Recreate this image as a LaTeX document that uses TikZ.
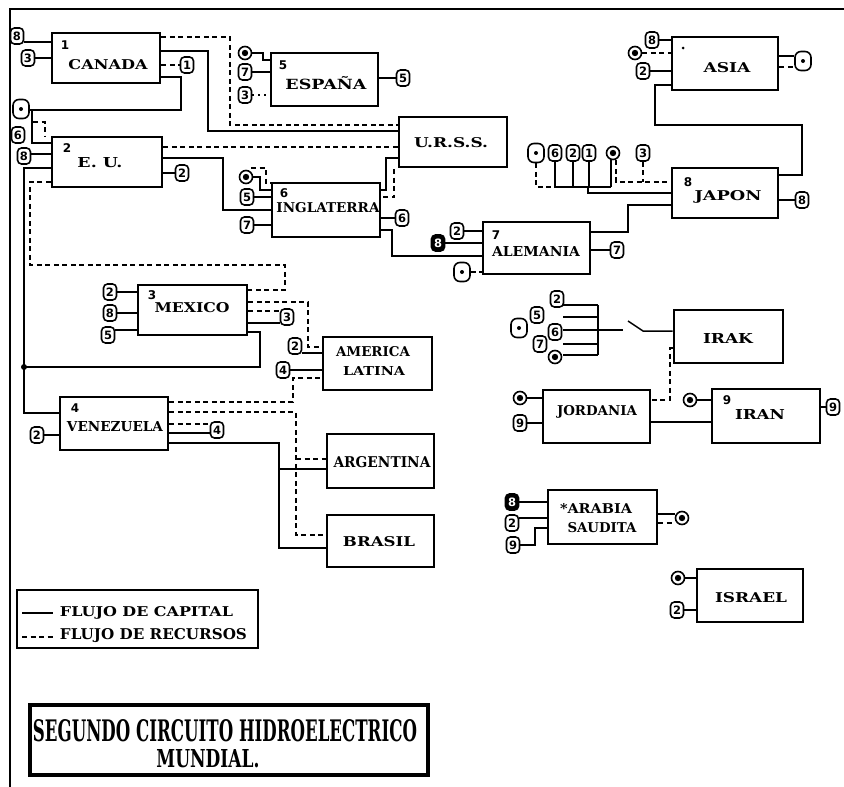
\documentclass[tikz,border=0pt]{standalone}
\usepackage{fontspec}
\setmainfont{DejaVu Serif}
\setsansfont{DejaVu Sans}
\usepackage{graphicx}
\newcommand\fitlab[3]{\resizebox{#1pt}{#2pt}{\bfseries #3}}
\begin{document}
\begin{tikzpicture}[x=1pt,y=-1pt,
 box/.style={draw, line width=2.6pt, inner sep=0pt},
 lbl/.style={inner sep=0pt, outer sep=0pt},
 num/.style={inner sep=0pt, font=\sffamily\bfseries\fontsize{12}{12}\selectfont},
 bdg/.style={draw, rounded corners=4pt, line width=1.6pt, minimum width=13pt, minimum height=16pt, inner sep=0pt, font=\sffamily\bfseries\fontsize{11.5}{11.5}\selectfont},
 bdgd/.style={bdg, fill=black, text=white},
 odot/.style={draw, rounded corners=6pt, line width=1.6pt, minimum width=16pt, minimum height=19pt, inner sep=0pt, path picture={\fill (path picture bounding box.center) circle (2pt);}},
 sdot/.style={draw, circle, line width=1.6pt, minimum size=13pt, inner sep=0pt, path picture={\fill (path picture bounding box.center) circle (3.2pt);}},
 cl/.style={line width=1.5pt},
 rl/.style={line width=1.5pt, dash pattern=on 5pt off 3.5pt},
 jdot/.style={circle, fill, inner sep=0pt, minimum size=6pt}]
\useasboundingbox (0,0) rectangle (844,787);
\fill[white] (0,0) rectangle (844,787);
% frame
\draw[line width=2.8pt] (844,9) -- (10,9) -- (10,787);

% ---------- boxes ----------
\node[box, minimum width=108pt, minimum height=50pt] (can) at (106,58) {};
\node[box, minimum width=110pt, minimum height=50pt] (eu) at (107,162) {};
\node[box, minimum width=107pt, minimum height=53pt] (esp) at (324.5,79.5) {};
\node[box, minimum width=108pt, minimum height=50pt] (urss) at (453,142) {};
\node[box, minimum width=106pt, minimum height=53pt] (asia) at (725,63.5) {};
\node[box, minimum width=106pt, minimum height=50pt] (jap) at (725,193) {};
\node[box, minimum width=108pt, minimum height=54pt] (ing) at (326,210) {};
\node[box, minimum width=107pt, minimum height=52pt] (ale) at (536.5,248) {};
\node[box, minimum width=109pt, minimum height=50pt] (mex) at (192.5,310) {};
\node[box, minimum width=109pt, minimum height=53pt] (aml) at (377.5,363.5) {};
\node[box, minimum width=109pt, minimum height=53pt] (irak) at (728.5,336.5) {};
\node[box, minimum width=107pt, minimum height=53pt] (jor) at (596.5,416.5) {};
\node[box, minimum width=108pt, minimum height=54pt] (iran) at (766,416) {};
\node[box, minimum width=109pt, minimum height=54pt] (ara) at (602.5,517) {};
\node[box, minimum width=106pt, minimum height=53pt] (isr) at (750,595.5) {};
\node[box, minimum width=108pt, minimum height=53pt] (ven) at (114,423.5) {};
\node[box, minimum width=107pt, minimum height=54pt] (arg) at (380.5,461) {};
\node[box, minimum width=107pt, minimum height=52pt] (bra) at (380.5,541) {};
\node[draw, line width=1.2pt, minimum width=241pt, minimum height=58pt, inner sep=0pt] (leg) at (137.5,619) {};
\node[draw, line width=4pt, minimum width=398pt, minimum height=70pt, inner sep=0pt] (tit) at (229,740) {};

% ---------- box texts ----------
\node[lbl] (tcan) at (108,65) {\fitlab{79}{10}{CANADA}};
\node[num] (ncan) at (65,45) {1};
\node[lbl] (teu) at (100,163) {\fitlab{45}{10}{E. U.}};
\node[num] (neu) at (67,148) {2};
\node[lbl] (tesp) at (326,83) {\fitlab{81}{13}{ESPAÑA}};
\node[num] (nesp) at (283,65) {5};
\node[lbl] (turss) at (451,143) {\fitlab{74}{10}{U.R.S.S.}};
\node[lbl] (tasia) at (727,68) {\fitlab{47}{10}{ASIA}};
\node[jdot, minimum size=3pt] (dasia) at (683,48) {};
\node[lbl] (tjap) at (728,197) {\fitlab{67}{10}{JAPON}};
\node[num] (njap) at (688,182) {8};
\node[lbl] (ting) at (328,208) {\fitlab{103}{10}{INGLATERRA}};
\node[num] (ning) at (284,193) {6};
\node[lbl] (tale) at (536,251) {\fitlab{88}{10}{ALEMANIA}};
\node[num] (nale) at (496,235) {7};
\node[lbl] (tmex) at (192,308) {\fitlab{75}{10}{MEXICO}};
\node[num] (nmex) at (152,295) {3};
\node[lbl] (taml1) at (373,352) {\fitlab{74}{10}{AMERICA}};
\node[lbl] (taml2) at (374,371) {\fitlab{62}{9}{LATINA}};
\node[lbl] (tirak) at (728,338) {\fitlab{50}{10}{IRAK}};
\node[lbl] (tjor) at (597,412) {\fitlab{80}{10}{JORDANIA}};
\node[lbl] (tiran) at (760,414) {\fitlab{50}{10}{IRAN}};
\node[num] (niran) at (727,400) {9};
\node[lbl] (tara1) at (596,508) {\fitlab{72}{10}{*ARABIA}};
\node[lbl] (tara2) at (602,528) {\fitlab{69}{10}{SAUDITA}};
\node[lbl] (tisr) at (751,598) {\fitlab{72}{10}{ISRAEL}};
\node[lbl] (tven) at (115,427) {\fitlab{96}{10}{VENEZUELA}};
\node[num] (nven) at (75,408) {4};
\node[lbl] (targ) at (382,462) {\fitlab{97}{11}{ARGENTINA}};
\node[lbl] (tbra) at (379,542) {\fitlab{72}{10}{BRASIL}};
\node[lbl] (tleg1) at (146.5,613) {\fitlab{173}{10}{FLUJO DE CAPITAL}};
\node[lbl] (tleg2) at (153.5,636) {\fitlab{187}{11}{FLUJO DE RECURSOS}};
\node[lbl] (ttit1) at (225,731) {\fitlab{384}{22}{SEGUNDO CIRCUITO HIDROELECTRICO}};
\node[lbl] (ttit2) at (208,759) {\fitlab{103}{18}{MUNDIAL.}};

% ---------- tokens ----------
\node[bdg] (b8a) at (17,36) {8};
\node[bdg] (b3a) at (28,58) {3};
\node[bdg] (b1a) at (187,65) {1};
\node[odot] (oa) at (21,109) {};
\node[bdg] (b6a) at (18,135) {6};
\node[bdg] (b8b) at (24,156) {8};
\node[bdg] (b2b) at (182,173) {2};

\node[sdot] (se1) at (245,53) {};
\node[bdg] (b7e) at (245,72) {7};
\node[bdg] (b3e) at (245,95) {3};
\node[bdg] (b5e) at (403,78) {5};

\node[sdot] (si) at (246,177) {};
\node[bdg] (b5i) at (247,197) {5};
\node[bdg] (b7i) at (247,225) {7};
\node[bdg] (b6i) at (402,218) {6};

\node[bdg] (b2al) at (457,231) {2};
\node[bdgd] (b8al) at (438,243) {8};
\node[odot] (oal) at (462,272) {};
\node[bdg] (b7al) at (617,250) {7};

\node[odot] (oj) at (536,153) {};
\node[bdg] (b6j) at (555,153) {6};
\node[bdg] (b2j) at (573,153) {2};
\node[bdg] (b1j) at (589,153) {1};
\node[sdot] (sj) at (613,153) {};
\node[bdg] (b3j) at (643,153) {3};
\node[bdg] (b8j) at (802,200) {8};

\node[bdg] (b8as) at (652,40) {8};
\node[sdot] (sas) at (635,53) {};
\node[bdg] (b2as) at (643,71) {2};
\node[odot] (oas) at (803,61) {};

\node[bdg] (b2m) at (110,292) {2};
\node[bdg] (b8m) at (110,313) {8};
\node[bdg] (b5m) at (108,335) {5};
\node[bdg] (b3m) at (287,317) {3};

\node[bdg] (b2aml) at (295,346) {2};
\node[bdg] (b4aml) at (283,370) {4};

\node[bdg] (b2v) at (37,435) {2};
\node[bdg] (b4v) at (217,430) {4};

\node[odot] (ok) at (519,328) {};
\node[bdg] (b2k) at (557,299) {2};
\node[bdg] (b5k) at (537,315) {5};
\node[bdg] (b6k) at (555,332) {6};
\node[bdg] (b7k) at (540,344) {7};
\node[sdot] (sk) at (555,357) {};

\node[sdot] (sjo) at (520,398) {};
\node[bdg] (b9jo) at (520,423) {9};
\node[sdot] (sir) at (690,400) {};
\node[bdg] (b9ir) at (833,407) {9};

\node[bdgd] (b8ar) at (512,502) {8};
\node[bdg] (b2ar) at (512,523) {2};
\node[bdg] (b9ar) at (513,545) {9};
\node[sdot] (sar) at (682,518) {};

\node[sdot] (sis) at (678,578) {};
\node[bdg] (b2is) at (677,610) {2};

\node[jdot] (jn) at (24,367) {};

% ---------- connectors ----------
% Canada
\draw[cl] (b8a.east |- 0,42) -- (can.west |- 0,42);
\draw[cl] (b3a) -- (can.west |- b3a);
\draw[rl] (can.east |- b1a) -- (b1a);
\draw[cl] (can.east |- 0,77) -- (181,77) -- (181,110) -- (oa.east |- 0,110);
\draw[cl] (32,110) -- (32,143) -- (eu.west |- 0,143);
\draw[rl] (33,122) -- (45,122) -- (45,137);
\draw[cl] (b8b.east |- 0,154) -- (eu.west |- 0,154);
\draw[rl] (can.east |- 0,37) -- (230,37) -- (230,125) -- (urss.west |- 0,125);
\draw[cl] (can.east |- 0,51) -- (208,51) -- (208,131) -- (urss.west |- 0,131);
% E.U.
\draw[rl] (eu.east |- 0,147) -- (urss.west |- 0,147);
\draw[cl] (eu.east |- 0,158) -- (223,158) -- (223,210) -- (ing.west |- 0,210);
\draw[cl] (eu.east |- b2b) -- (b2b);
\draw[rl] (eu.west |- 0,182) -- (30,182) -- (30,265) -- (285,265) -- (285,290) -- (mex.east |- 0,290);
\draw[cl] (eu.west |- 0,168) -- (24,168) -- (24,413) -- (ven.west |- 0,413);
\draw[cl] (mex.east |- 0,332) -- (260,332) -- (260,367) -- (jn.center);
% España
\draw[cl] (se1.east) -| (263,60) -- (esp.west |- 0,60);
\draw[cl] (b7e) -- (esp.west |- b7e);
\draw[line width=1.3pt, dash pattern=on 2pt off 4pt] (b3e) -- (esp.west |- b3e);
\draw[cl] (esp.east |- b5e) -- (b5e);
% U.R.S.S.
\draw[cl] (urss.west |- 0,158) -- (386,158) -- (386,190) -- (ing.east |- 0,190);
\draw[rl] (394,169) -- (394,197) -- (ing.east |- 0,197);
% Inglaterra
\draw[cl] (si.east) -| (260,190) -- (ing.west |- 0,190);
\draw[rl] (251,168) -- (266,168) -- (266,183) -- (ing.west |- 0,183);
\draw[cl] (b5i) -- (ing.west |- b5i);
\draw[cl] (b7i) -- (ing.west |- b7i);
\draw[cl] (ing.east |- b6i) -- (b6i);
\draw[cl] (ing.east |- 0,230) -- (392,230) -- (392,256) -- (ale.west |- 0,256);
% Alemania
\draw[cl] (b2al) -- (ale.west |- b2al);
\draw[cl] (b8al) -- (ale.west |- b8al);
\draw[rl] (oal.east) -- (ale.west |- oal);
\draw[cl] (ale.east |- b7al) -- (b7al);
\draw[cl] (ale.east |- 0,232) -- (628,232) -- (628,205) -- (jap.west |- 0,205);
% Japon
\draw[rl] (oj.south) -- (536,187) -- (555,187);
\draw[cl] (b6j.south) -- (555,187) -- (611,187);
\draw[cl] (b2j.south) -- (573,187);
\draw[cl] (b1j.south) -- (589,187);
\draw[cl] (sj.south -| 611,0) -- (611,187);
\draw[cl] (588,187) -- (588,193) -- (jap.west |- 0,193);
\draw[rl] (sj.south -| 616,0) -- (616,182) -- (jap.west |- 0,182);
\draw[rl] (b3j.south) -- (643,182);
\draw[cl] (jap.east |- b8j) -- (b8j);
\draw[cl] (jap.east |- 0,175) -- (802,175) -- (802,125) -- (655,125) -- (655,85) -- (asia.west |- 0,85);
% Asia
\draw[cl] (b8as.east) -- (asia.west |- b8as);
\draw[rl] (sas.east) -- (asia.west |- sas);
\draw[cl] (b2as.east) -- (asia.west |- b2as);
\draw[cl] (asia.east |- 0,56) -- (oas.west |- 0,56);
\draw[rl] (asia.east |- 0,67) -- (oas.west |- 0,67);
% Mexico
\draw[cl] (b2m) -- (mex.west |- b2m);
\draw[cl] (b8m) -- (mex.west |- b8m);
\draw[cl] (b5m.east |- 0,330) -- (mex.west |- 0,330);
\draw[rl] (mex.east |- 0,302) -- (308,302) -- (308,347) -- (aml.west |- 0,347);
\draw[rl] (mex.east |- 0,311) -- (b3m.west |- 0,311);
\draw[cl] (mex.east |- 0,323) -- (b3m.west |- 0,323);
% America Latina
\draw[cl] (b2aml.east |- 0,353) -- (aml.west |- 0,353);
\draw[cl] (b4aml) -- (aml.west |- b4aml);
\draw[rl] (ven.east |- 0,402) -- (293,402) -- (293,378) -- (aml.west |- 0,378);
% Venezuela
\draw[rl] (ven.east |- 0,412) -- (296,412) -- (296,535) -- (bra.west |- 0,535);
\draw[rl] (296,459) -- (arg.west |- 0,459);
\draw[rl] (ven.east |- 0,424) -- (b4v.west |- 0,424);
\draw[cl] (ven.east |- 0,433) -- (b4v.west |- 0,433);
\draw[cl] (ven.east |- 0,443) -- (279,443) -- (279,548) -- (bra.west |- 0,548);
\draw[cl] (279,469) -- (arg.west |- 0,469);
\draw[cl] (b2v) -- (ven.west |- b2v);
% Irak
\draw[cl] (563,305) -- (598,305);
\draw[cl] (563,317) -- (598,317);
\draw[cl] (563,330) -- (623,330);
\draw[cl] (563,344) -- (598,344);
\draw[cl] (563,355) -- (598,355);
\draw[cl] (598,305) -- (598,355);
\draw[cl] (628,321) -- (643,331) -- (irak.west |- 0,331);
\draw[rl] (irak.west |- 0,348) -- (670,348) -- (670,400) -- (jor.east |- 0,400);
% Jordania / Iran
\draw[cl] (sjo.east) -- (jor.west |- sjo);
\draw[cl] (b9jo.east) -- (jor.west |- b9jo);
\draw[cl] (jor.east |- 0,422) -- (iran.west |- 0,422);
\draw[cl] (sir.east) -- (iran.west |- sir);
\draw[cl] (iran.east |- b9ir) -- (b9ir);
% Arabia
\draw[cl] (b8ar) -- (ara.west |- b8ar);
\draw[cl] (b2ar.east |- 0,518) -- (ara.west |- 0,518);
\draw[cl] (b9ar.east) -- (535,545) -- (535,528) -- (ara.west |- 0,528);
\draw[cl] (ara.east |- 0,514) -- (sar.west |- 0,514);
\draw[rl] (ara.east |- 0,523) -- (sar.west |- 0,523);
% Israel
\draw[cl] (sis) -- (isr.west |- sis);
\draw[cl] (b2is) -- (isr.west |- b2is);
% legend
\draw[cl] (22,613) -- (53,613);
\draw[rl] (22,637) -- (53,637);
\end{tikzpicture}
\end{document}
